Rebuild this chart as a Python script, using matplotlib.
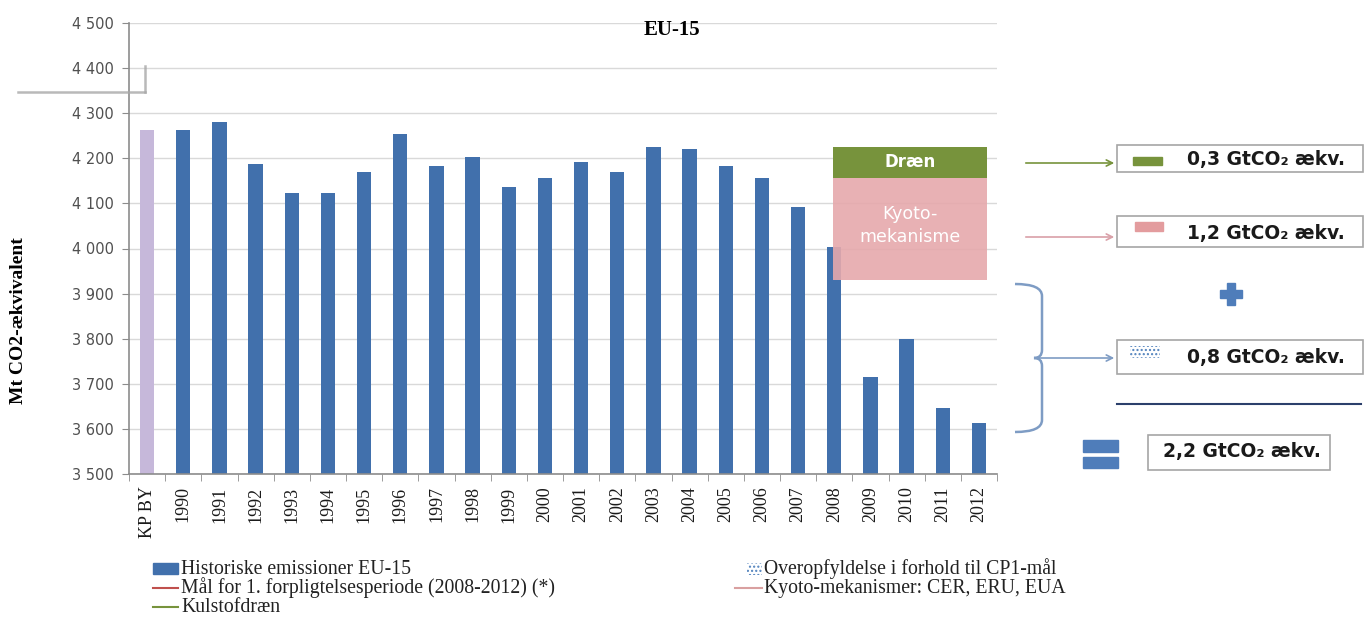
import matplotlib
matplotlib.use("Agg")
import matplotlib.pyplot as plt
from matplotlib.patches import Rectangle, FancyArrowPatch, PathPatch
from matplotlib.path import Path
from matplotlib.lines import Line2D
from matplotlib.ticker import FuncFormatter, FixedLocator

# ---------------- data ----------------
categories = ["KP BY", "1990", "1991", "1992", "1993", "1994", "1995", "1996",
              "1997", "1998", "1999", "2000", "2001", "2002", "2003", "2004",
              "2005", "2006", "2007", "2008", "2009", "2010", "2011", "2012"]
emissions = [4262, 4262, 4280, 4188, 4124, 4124, 4170, 4253, 4184, 4202,
             4137, 4156, 4192, 4170, 4224, 4220, 4183, 4156, 4093, 4004,
             3714, 3799, 3646, 3614]
kyoto_band = [3930, 4156]      # Kyoto-mekanisme block (Mt)
drain_band = [4156, 4226]      # Dræn block (Mt)
band_start_cat = "2008"
band_end_cat = "2012"
summary_values = ["0,3", "1,2", "0,8", "2,2"]
y_ticks = [3500, 3600, 3700, 3800, 3900, 4000, 4100, 4200, 4300, 4400, 4500]

# ---------------- styling ----------------
BLUE = "#4170AC"
LAV = "#C6B8DA"
GREEN = "#77933C"
PINK = "#E6A9AC"
GRID = "#D9D9D9"
SPINE = "#8C8C8C"
SERIF = ["Liberation Serif", "DejaVu Serif"]
SANS = ["DejaVu Sans"]

W, H = 1368, 628
fig = plt.figure(figsize=(W / 100, H / 100), dpi=100)
fig.patch.set_facecolor("white")


def fx(x):
    return x / W


def fy(y):
    return 1 - y / H


ax = fig.add_axes([fx(129), fy(474), (997 - 129) / W, (474 - 23) / H])

x = list(range(len(categories)))
colors = [LAV] + [BLUE] * (len(categories) - 1)
bar_w = 0.4
ax.bar(x, emissions, width=bar_w, color=colors, zorder=2)

# Kyoto / drain blocks
i0 = categories.index(band_start_cat)
i1 = categories.index(band_end_cat)
bx0 = i0 - 0.04
bx1 = i1 + bar_w / 2 + 0.03
ax.bar(bx0, kyoto_band[1] - kyoto_band[0], bottom=kyoto_band[0],
       width=bx1 - bx0, align="edge", color=PINK, alpha=0.9, zorder=3,
       linewidth=0)
ax.bar(bx0, drain_band[1] - drain_band[0], bottom=drain_band[0],
       width=bx1 - bx0, align="edge", color=GREEN, zorder=3, linewidth=0)
xc = (bx0 + bx1) / 2
ax.text(xc, sum(drain_band) / 2, "Dræn", color="white", fontsize=12,
        fontweight="bold", family=SANS, ha="center", va="center", zorder=4)
ax.text(xc, sum(kyoto_band) / 2 + 8, "Kyoto-\nmekanisme", color="white",
        fontsize=12.5, family=SANS, ha="center", va="center", zorder=4,
        linespacing=1.35)

ax.set_ylim(3500, 4500)
ax.set_xlim(-0.5, len(categories) - 0.5)
ax.yaxis.set_major_locator(FixedLocator(y_ticks))
ax.yaxis.set_major_formatter(FuncFormatter(lambda v, p: f"{int(v):,}".replace(",", " ")))
ax.grid(axis="y", color=GRID, linewidth=1, zorder=0)
ax.set_axisbelow(True)

ax.set_xticks(x)
ax.set_xticklabels(categories, rotation=90, fontsize=13, family=SERIF,
                   color="#1A1A1A")
ax.set_xticks([i - 0.5 for i in range(len(categories) + 1)], minor=True)
ax.tick_params(axis="x", which="major", length=0, pad=9)
ax.tick_params(axis="x", which="minor", length=5, color=SPINE, direction="out")
ax.tick_params(axis="y", length=5, color=SPINE, direction="out", pad=6,
               labelsize=10.5, labelcolor="#505050")
for lbl in ax.get_yticklabels():
    lbl.set_family(SANS)

for s in ["top", "right"]:
    ax.spines[s].set_visible(False)
for s in ["left", "bottom"]:
    ax.spines[s].set_color(SPINE)
    ax.spines[s].set_linewidth(1.2)

ax.text(0.626, 0.985, "EU-15", transform=ax.transAxes, ha="center",
        va="center", fontsize=15, fontweight="bold", family=SERIF)

fig.text(fx(19), fy(321), "Mt CO2-ækvivalent", rotation=90, ha="center",
         va="center", fontsize=14, fontweight="bold", family=SERIF)

# top-left shadowed callout remnant
fig.add_artist(Line2D([fx(18), fx(145)], [fy(92), fy(92)], color="#A8A8A8",
                      lw=1.8, alpha=0.8, transform=fig.transFigure))
fig.add_artist(Line2D([fx(145), fx(145)], [fy(66), fy(92)], color="#A8A8A8",
                      lw=1.8, alpha=0.8, transform=fig.transFigure))

# ---------------- legend (manual) ----------------
TF = fig.transFigure
LEG = dict(fontsize=14.2, family=SERIF, va="center", color="#222222")
fig.add_artist(Rectangle((fx(153), fy(574)), fx(25), 11 / H, color=BLUE,
                         transform=TF))
fig.text(fx(181), fy(569), "Historiske emissioner EU-15", **LEG)
fig.add_artist(Line2D([fx(153), fx(178)], [fy(588), fy(588)], color="#C0504D",
                      lw=1.5, transform=TF))
fig.text(fx(181), fy(588), "Mål for 1. forpligtelsesperiode (2008-2012) (*)",
         **LEG)
fig.add_artist(Line2D([fx(153), fx(178)], [fy(607), fy(607)], color=GREEN,
                      lw=1.5, transform=TF))
fig.text(fx(181), fy(607), "Kulstofdræn", **LEG)

fig.add_artist(Rectangle((fx(747), fy(575)), fx(15), 12 / H, facecolor="white",
                         edgecolor="#4F81BD", hatch="....", linewidth=0,
                         transform=TF))
fig.text(fx(764), fy(569), "Overopfyldelse i forhold til CP1-mål", **LEG)
fig.add_artist(Line2D([fx(735), fx(762)], [fy(588), fy(588)], color="#D9A0A0",
                      lw=1.5, transform=TF))
fig.text(fx(764), fy(588), "Kyoto-mekanismer: CER, ERU, EUA", **LEG)

# ---------------- right-hand summary panel ----------------
BOXEC = "#A6A6A6"
LBL = dict(fontsize=13.5, fontweight="bold", family=SANS, va="center",
           color="#1A1A1A")


def box(x0, y0, x1, y1):
    fig.add_artist(Rectangle((fx(x0), fy(y1)), fx(x1 - x0), (y1 - y0) / H,
                             facecolor="white", edgecolor=BOXEC, lw=1.2,
                             transform=TF))


def arrow(x0, x1, y, c):
    fig.add_artist(FancyArrowPatch((fx(x0), fy(y)), (fx(x1), fy(y)),
                                   arrowstyle="->", mutation_scale=11,
                                   color=c, lw=1.2, transform=TF))


# box 1 : drain
box(1117, 145, 1363, 172)
fig.add_artist(Rectangle((fx(1133), fy(165)), fx(29), 8 / H, color=GREEN,
                         transform=TF))
fig.text(fx(1187), fy(160), f"{summary_values[0]} GtCO₂ ækv.", **LBL)
arrow(1023, 1117, 163, GREEN)

# box 2 : kyoto
box(1117, 216, 1363, 247)
fig.add_artist(Rectangle((fx(1135), fy(231)), fx(28), 9 / H, color="#E39C9E",
                         transform=TF))
fig.text(fx(1187), fy(233), f"{summary_values[1]} GtCO₂ ækv.", **LBL)
arrow(1023, 1117, 237, "#D9A0A8")

# plus sign
PLUS = "#4F7DBA"
fig.add_artist(Rectangle((fx(1220), fy(298)), fx(22), 8 / H, color=PLUS,
                         transform=TF))
fig.add_artist(Rectangle((fx(1227), fy(305)), fx(8), 22 / H, color=PLUS,
                         transform=TF))

# box 3 : over-fulfilment
box(1117, 340, 1363, 374)
fig.add_artist(Rectangle((fx(1130), fy(358)), fx(30), 12 / H, facecolor="white",
                         edgecolor="#4F81BD", hatch="....", linewidth=0,
                         transform=TF))
fig.text(fx(1187), fy(357), f"{summary_values[2]} GtCO₂ ækv.", **LBL)

# brace
BR = "#7E9CC4"
verts = [(1015, 284), (1042, 284), (1042, 296),
         (1042, 350),
         (1042, 358), (1034, 358),
         (1042, 358), (1042, 366),
         (1042, 420),
         (1042, 432), (1015, 432)]
codes = [Path.MOVETO, Path.CURVE3, Path.CURVE3,
         Path.LINETO,
         Path.CURVE3, Path.CURVE3,
         Path.CURVE3, Path.CURVE3,
         Path.LINETO,
         Path.CURVE3, Path.CURVE3]
verts_f = [(fx(a), fy(b)) for a, b in verts]
fig.add_artist(PathPatch(Path(verts_f, codes), facecolor="none", edgecolor=BR,
                         lw=1.8, transform=TF))
arrow(1036, 1117, 358, BR)

# separator line
fig.add_artist(Line2D([fx(1117), fx(1361)], [fy(404), fy(404)], color="#2B3F6B",
                      lw=1.5, transform=TF))

# equals sign
fig.add_artist(Rectangle((fx(1083), fy(452)), fx(35), 12 / H, color=PLUS,
                         transform=TF))
fig.add_artist(Rectangle((fx(1083), fy(468)), fx(35), 11 / H, color=PLUS,
                         transform=TF))

# box 4 : total
box(1148, 435, 1330, 470)
fig.text(fx(1163), fy(452), f"{summary_values[3]} GtCO₂ ækv.", **LBL)

fig.savefig("out.png", dpi=100, facecolor="white")
